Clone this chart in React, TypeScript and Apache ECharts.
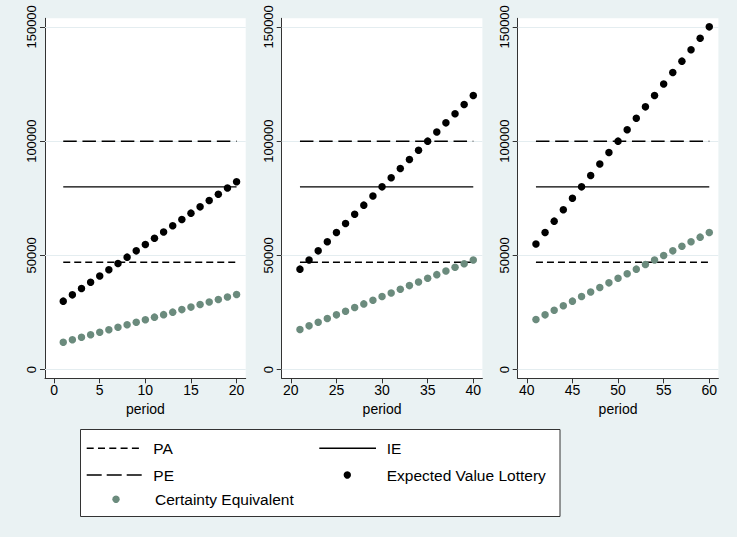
import React, { useEffect, useRef } from "react";
import * as echarts from "echarts";

const periods1 = [1, 2, 3, 4, 5, 6, 7, 8, 9, 10, 11, 12, 13, 14, 15, 16, 17, 18, 19, 20];
const periods2 = [21, 22, 23, 24, 25, 26, 27, 28, 29, 30, 31, 32, 33, 34, 35, 36, 37, 38, 39, 40];
const periods3 = [41, 42, 43, 44, 45, 46, 47, 48, 49, 50, 51, 52, 53, 54, 55, 56, 57, 58, 59, 60];

const evLottery1 = [30000, 32750, 35500, 38250, 41000, 43750, 46500, 49250, 52000, 54750, 57500, 60250, 63000, 65750, 68500, 71250, 74000, 76750, 79500, 82250];
const evLottery2 = [44000, 48000, 52000, 56000, 60000, 64000, 68000, 72000, 76000, 80000, 84000, 88000, 92000, 96000, 100000, 104000, 108000, 112000, 116000, 120000];
const evLottery3 = [55000, 60000, 65000, 70000, 75000, 80000, 85000, 90000, 95000, 100000, 105000, 110000, 115000, 120000, 125000, 130000, 135000, 140000, 145000, 150000];

const certEq1 = [12000, 13100, 14200, 15300, 16400, 17500, 18600, 19700, 20800, 21900, 23000, 24100, 25200, 26300, 27400, 28500, 29600, 30700, 31800, 32900];
const certEq2 = [17600, 19200, 20800, 22400, 24000, 25600, 27200, 28800, 30400, 32000, 33600, 35200, 36800, 38400, 40000, 41600, 43200, 44800, 46400, 48000];
const certEq3 = [22000, 24000, 26000, 28000, 30000, 32000, 34000, 36000, 38000, 40000, 42000, 44000, 46000, 48000, 50000, 52000, 54000, 56000, 58000, 60000];

const levelPA = 47000;
const levelIE = 80000;
const levelPE = 100000;

const yTicks = [0, 50000, 100000, 150000];
const xTicks1 = [0, 5, 10, 15, 20];
const xTicks2 = [20, 25, 30, 35, 40];
const xTicks3 = [40, 45, 50, 55, 60];

const legendNames = ["PA", "IE", "PE", "Expected Value Lottery", "Certainty Equivalent"];

const FONT = "'Liberation Sans', Arial, Helvetica, sans-serif";
const BG = "#eaf2f3";
const CE_COLOR = "#6b8b7d";

export default function App() {
  const ref = useRef<HTMLDivElement>(null);

  useEffect(() => {
    if (!ref.current) return;
    const chart = echarts.init(ref.current, undefined, { renderer: "svg" });

    const panels = [
      { periods: periods1, ev: evLottery1, ce: certEq1, ticks: xTicks1, left: 45 },
      { periods: periods2, ev: evLottery2, ce: certEq2, ticks: xTicks2, left: 281.7 },
      { periods: periods3, ev: evLottery3, ce: certEq3, ticks: xTicks3, left: 517.7 },
    ];

    const grids = panels.map((p) => ({
      left: p.left,
      top: 18.3,
      width: 200.7,
      height: 360,
      show: true,
      backgroundColor: "#ffffff",
      borderWidth: 0,
    }));

    const xAxes = panels.map((p, i) => ({
      type: "value",
      gridIndex: i,
      min: p.ticks[0] - 1,
      max: p.ticks[p.ticks.length - 1] + 1,
      name: "period",
      nameLocation: "middle",
      nameGap: 20,
      nameTextStyle: { fontFamily: FONT, fontSize: 14, color: "#000" },
      axisLine: { show: true, onZero: false, lineStyle: { color: "#333", width: 1 } },
      axisTick: { show: true, length: 5, customValues: p.ticks, lineStyle: { color: "#333" } },
      axisLabel: {
        customValues: p.ticks,
        margin: 5,
        fontFamily: FONT,
        fontSize: 14,
        color: "#000",
        formatter: (v: number) => String(v),
      },
      splitLine: { show: false },
    }));

    const yAxes = panels.map((_p, i) => ({
      type: "value",
      gridIndex: i,
      min: -3750,
      max: 153750,
      axisLine: { show: true, onZero: false, lineStyle: { color: "#333", width: 1 } },
      axisTick: { show: true, length: 5, customValues: yTicks, lineStyle: { color: "#333" } },
      axisLabel: {
        customValues: yTicks,
        rotate: 90,
        margin: 7,
        fontFamily: FONT,
        fontSize: 13,
        color: "#000",
        formatter: (v: number) => String(v),
      },
      splitLine: { show: false },
    }));

    const series: any[] = [];
    panels.forEach((p, i) => {
      series.push({
        name: "PA",
        type: "line",
        xAxisIndex: i,
        yAxisIndex: i,
        z: 3,
        data: p.periods.map((x) => [x, levelPA]),
        showSymbol: false,
        symbol: "none",
        lineStyle: { color: "#000", width: 1.5, type: [7, 4] },
        markLine: {
          silent: true,
          z: 1,
          symbol: ["none", "none"],
          label: { show: false },
          lineStyle: { color: "#e4edf0", width: 1, type: "solid" },
          data: yTicks.map((t) => ({ yAxis: t })),
        },
      });
      series.push({
        name: "IE",
        type: "line",
        xAxisIndex: i,
        yAxisIndex: i,
        z: 3,
        data: p.periods.map((x) => [x, levelIE]),
        showSymbol: false,
        symbol: "none",
        lineStyle: { color: "#000", width: 1.4, type: "solid" },
      });
      series.push({
        name: "PE",
        type: "line",
        xAxisIndex: i,
        yAxisIndex: i,
        z: 3,
        data: p.periods.map((x) => [x, levelPE]),
        showSymbol: false,
        symbol: "none",
        lineStyle: { color: "#000", width: 1.5, type: [13.5, 5.7] },
      });
      series.push({
        name: "Expected Value Lottery",
        type: "scatter",
        xAxisIndex: i,
        yAxisIndex: i,
        z: 4,
        data: p.periods.map((x, k) => [x, p.ev[k]]),
        symbol: "circle",
        symbolSize: 7.5,
        itemStyle: { color: "#000", opacity: 1 },
      });
      series.push({
        name: "Certainty Equivalent",
        type: "scatter",
        xAxisIndex: i,
        yAxisIndex: i,
        z: 4,
        data: p.periods.map((x, k) => [x, p.ce[k]]),
        symbol: "circle",
        symbolSize: 7.5,
        itemStyle: { color: CE_COLOR, opacity: 1 },
      });
    });

    const textStyle = (text: string, x: number, y: number) => ({
      type: "text",
      style: {
        text,
        x,
        y,
        fill: "#000",
        fontFamily: FONT,
        fontSize: 15.5,
        align: "left",
        verticalAlign: "middle",
      },
    });

    const graphic: any[] = [
      {
        type: "rect",
        shape: { x: 80.5, y: 429.5, width: 479.5, height: 87 },
        style: { fill: "#ffffff", stroke: "#333", lineWidth: 1 },
      },
      {
        type: "line",
        shape: { x1: 86.7, y1: 448.3, x2: 141.7, y2: 448.3 },
        style: { stroke: "#000", lineWidth: 1.4, lineDash: [7, 4.3] },
      },
      textStyle(legendNames[0], 153.3, 448.3),
      {
        type: "line",
        shape: { x1: 319.3, y1: 448.3, x2: 376, y2: 448.3 },
        style: { stroke: "#000", lineWidth: 1.4 },
      },
      textStyle(legendNames[1], 386.7, 448.3),
      {
        type: "line",
        shape: { x1: 86.7, y1: 475, x2: 141.7, y2: 475 },
        style: { stroke: "#000", lineWidth: 1.4, lineDash: [15, 5] },
      },
      textStyle(legendNames[2], 153.3, 475),
      {
        type: "circle",
        shape: { cx: 347.3, cy: 475, r: 3.7 },
        style: { fill: "#000" },
      },
      textStyle(legendNames[3], 386.7, 475),
      {
        type: "circle",
        shape: { cx: 116, cy: 499.3, r: 3.7 },
        style: { fill: CE_COLOR },
      },
      textStyle(legendNames[4], 155, 499.3),
    ];

    chart.setOption({
      animation: false,
      backgroundColor: BG,
      grid: grids,
      xAxis: xAxes,
      yAxis: yAxes,
      series,
      graphic,
    });

    return () => chart.dispose();
  }, []);

  return (
    <div
      ref={ref}
      style={{ position: "absolute", left: 0, top: 0, width: 737, height: 537 }}
    />
  );
}
